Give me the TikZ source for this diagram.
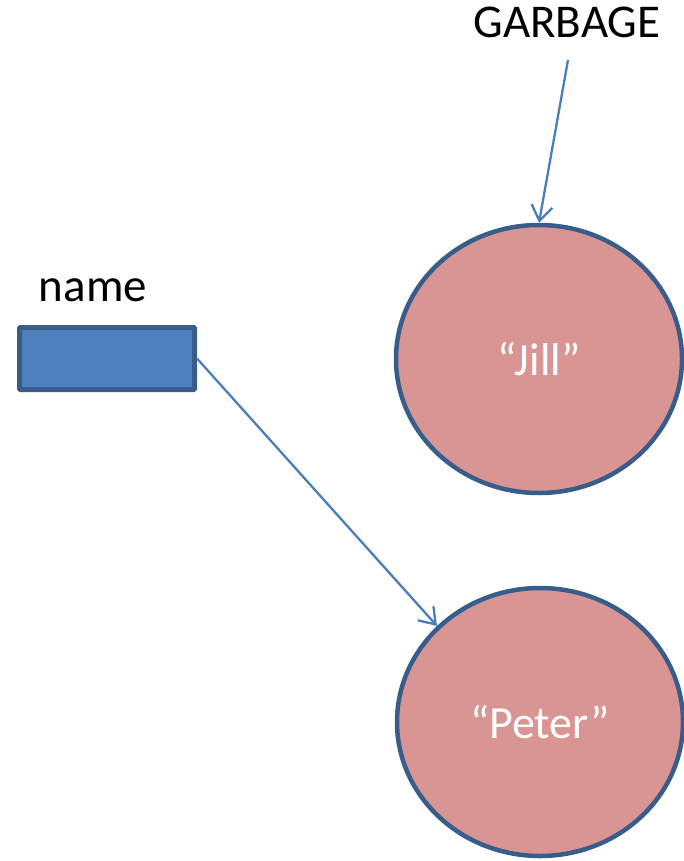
\documentclass[tikz,border=0pt]{standalone}
\usepackage{fontspec}
\setmainfont{Carlito}
\usetikzlibrary{shapes.geometric,arrows.meta}
\definecolor{boxfill}{HTML}{4F81BD}
\definecolor{boxline}{HTML}{385D8A}
\definecolor{ballfill}{HTML}{D99594}
\definecolor{arrowcol}{HTML}{4A7EBB}
\tikzset{
  ball/.style={ellipse, draw=boxline, line width=4.5pt, fill=ballfill,
    minimum width=286pt, minimum height=268pt, inner sep=0pt,
    text=white, font=\fontsize{46}{50}\selectfont},
  varbox/.style={rectangle, draw=boxline, line width=5pt, fill=boxfill,
    rounded corners=1pt, minimum width=175pt, minimum height=62pt, inner sep=0pt},
  label/.style={font=\fontsize{47}{52}\selectfont, inner sep=0pt},
  ref/.style={draw=arrowcol, line width=2.3pt,
    -{Straight Barb[length=15pt, width=21pt, line width=2.3pt]}}
}
\begin{document}
\begin{tikzpicture}[x=1pt, y=-1pt]
  \useasboundingbox (0,0) rectangle (684,861);
  % string objects
  \node[ball] (jill) at (539,359) {“Jill”};
  \node[ball] (peter) at (540,722) {“Peter”};
  % variable and its label
  \node[varbox] (name) at (107,358.5) {};
  \node[label] (namelbl) at (93,290) {name};
  % garbage marker
  \node[label] (garbage) at (567,22) {GARBAGE};
  \coordinate (gstart) at (568,60);
  % references
  \draw[ref] (gstart) -- (jill.north);
  \draw[ref] (name.east) -- (peter.137);
\end{tikzpicture}
\end{document}
